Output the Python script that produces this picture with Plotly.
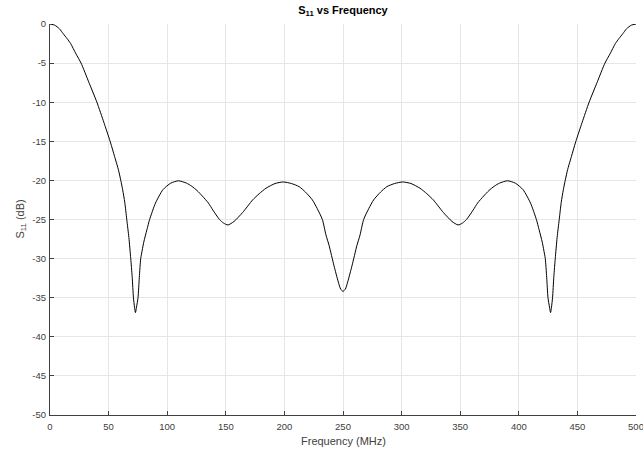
import plotly.graph_objects as go

# Frequency (MHz) and S11 (dB)
freq = [0, 4, 8, 11.3, 14.5, 17.6, 22.1, 26.5, 33, 40, 46, 51.3, 56, 58.3, 60.4, 62,
        63.8, 65.5, 67.3, 68.9, 70.1, 71.2, 72.1, 72.9, 73.8, 75.1, 76.2, 77.4, 78.7,
        80, 82.7, 85, 90, 96.3, 103, 109.7, 116.5, 121,
        125.5, 130, 135.2, 139, 144.6, 148, 151.8, 157, 164.4, 172.9, 178.5, 184.3, 192,
        199, 206, 212.6, 218, 223.9, 228, 232.4, 235.5, 238.1, 242.3, 246, 248, 250,
        252, 254, 257.7, 261.9, 264.5, 267.6, 272, 276.1, 282, 287.4, 294, 301, 308,
        315.7, 321.5, 327.1, 335.6, 343, 348.2, 352, 355.4, 361, 364.8, 370, 374.5, 379,
        383.5, 390.3, 397, 403.7, 410, 415, 417.3, 420, 421.3, 422.6, 423.8, 424.9, 426.2,
        427.1, 427.9, 428.8, 429.9, 431.1, 432.7, 434.5, 436.2, 438, 439.6, 441.7,
        444, 448.7, 454, 460, 467, 473.5, 477.9, 482.4, 485.5, 488.7, 492, 496, 500]
s11_db = [0, -0.15, -0.6, -1.25, -1.85, -2.5, -3.8, -5.0, -7.4, -10.0, -12.6, -15.0,
          -17.4, -18.6, -20.0, -21.2, -22.8, -25.0, -27.3, -30.0, -32.3, -35.0, -36.2,
          -36.9, -36.2, -35.0, -32.4, -30.0, -28.9,
          -27.9, -26.3, -25.0, -22.9, -21.2, -20.35, -20.05, -20.35, -20.75,
          -21.3, -22.0, -22.9, -23.8, -25.0, -25.45, -25.7, -25.25, -24.1, -22.5, -21.7,
          -21.0, -20.4, -20.2, -20.4, -20.8, -21.5, -22.5, -23.6, -25.0, -27.0, -28.3,
          -30.9, -33.0, -33.9, -34.2,
          -33.9, -33.0, -30.9, -28.3, -27.0, -25.0, -23.6, -22.5, -21.5, -20.8, -20.4,
          -20.2, -20.4, -21.0, -21.7, -22.5, -24.1, -25.25, -25.7, -25.45, -25.0, -23.8,
          -22.9, -22.0, -21.3, -20.75, -20.35, -20.05, -20.35, -21.2, -22.9, -25.0, -26.3,
          -27.9, -28.9, -30.0, -32.4, -35.0, -36.2, -36.9, -36.2, -35.0, -32.3, -30.0,
          -27.3, -25.0, -22.8, -21.2, -20.0, -18.6,
          -17.4, -15.0, -12.6, -10.0, -7.4, -5.0, -3.8, -2.5, -1.85, -1.25, -0.6, -0.15, 0]

x_ticks = [0, 50, 100, 150, 200, 250, 300, 350, 400, 450, 500]
x_tick_labels = ['0', '50', '100', '150', '200', '250', '300', '350', '400', '450', '500']
y_ticks = [0, -5, -10, -15, -20, -25, -30, -35, -40, -45, -50]
y_tick_labels = ['0', '-5', '-10', '-15', '-20', '-25', '-30', '-35', '-40', '-45', '-50']

axis_col = '#404040'
grid_col = '#e6e6e6'

W, H = 643, 453
ML, MR, MT, MB = 50, 7, 24, 38
PW, PH = W - ML - MR, H - MT - MB

fig = go.Figure(go.Scatter(x=freq, y=s11_db, mode='lines',
                           line=dict(color='black', width=1, shape='spline', smoothing=0.6),
                           hoverinfo='x+y'))

fig.update_layout(
    width=W, height=H,
    margin=dict(l=ML, r=MR, t=MT, b=MB),
    paper_bgcolor='white', plot_bgcolor='white',
    showlegend=False,
    font=dict(family='Liberation Sans, Arial, sans-serif', size=10, color=axis_col),
    title=dict(text='<b>S<sub>11</sub> vs Frequency</b>',
               x=0.5, xref='paper', xanchor='center',
               y=1 - 10 / H, yref='container', yanchor='middle',
               font=dict(size=11, color='black')),
    annotations=[
        dict(text='Frequency (MHz)', xref='paper', yref='paper',
             x=0.5, y=-(441 - (H - MB)) / PH, xanchor='center', yanchor='middle',
             showarrow=False, font=dict(size=11, color=axis_col)),
        dict(text='S<sub>11</sub> (dB)', xref='paper', yref='paper',
             x=(20 - ML) / PW, y=0.5, xanchor='center', yanchor='middle', textangle=-90,
             showarrow=False, font=dict(size=11, color=axis_col)),
    ],
)

fig.update_xaxes(range=[0, 500], tickvals=x_ticks, ticktext=x_tick_labels,
                 ticks='inside', ticklen=4, tickcolor=axis_col, tickwidth=1,
                 showline=True, linecolor=axis_col, linewidth=1, mirror=False,
                 showgrid=True, gridcolor=grid_col, gridwidth=1, zeroline=False,
                 tickfont=dict(size=9.5, color=axis_col),
                 ticklabelstandoff=3, automargin=False, ticklabeloverflow='allow')
fig.update_yaxes(range=[-50, 0], tickvals=y_ticks, ticktext=y_tick_labels,
                 ticks='inside', ticklen=4, tickcolor=axis_col, tickwidth=1,
                 showline=True, linecolor=axis_col, linewidth=1, mirror=False,
                 showgrid=True, gridcolor=grid_col, gridwidth=1, zeroline=False,
                 tickfont=dict(size=9.5, color=axis_col),
                 ticklabelstandoff=1, automargin=False, ticklabeloverflow='allow')

fig.write_html('out.html', config={'displayModeBar': False},
               post_script="document.body.style.margin='0px';document.body.style.overflow='hidden';")
